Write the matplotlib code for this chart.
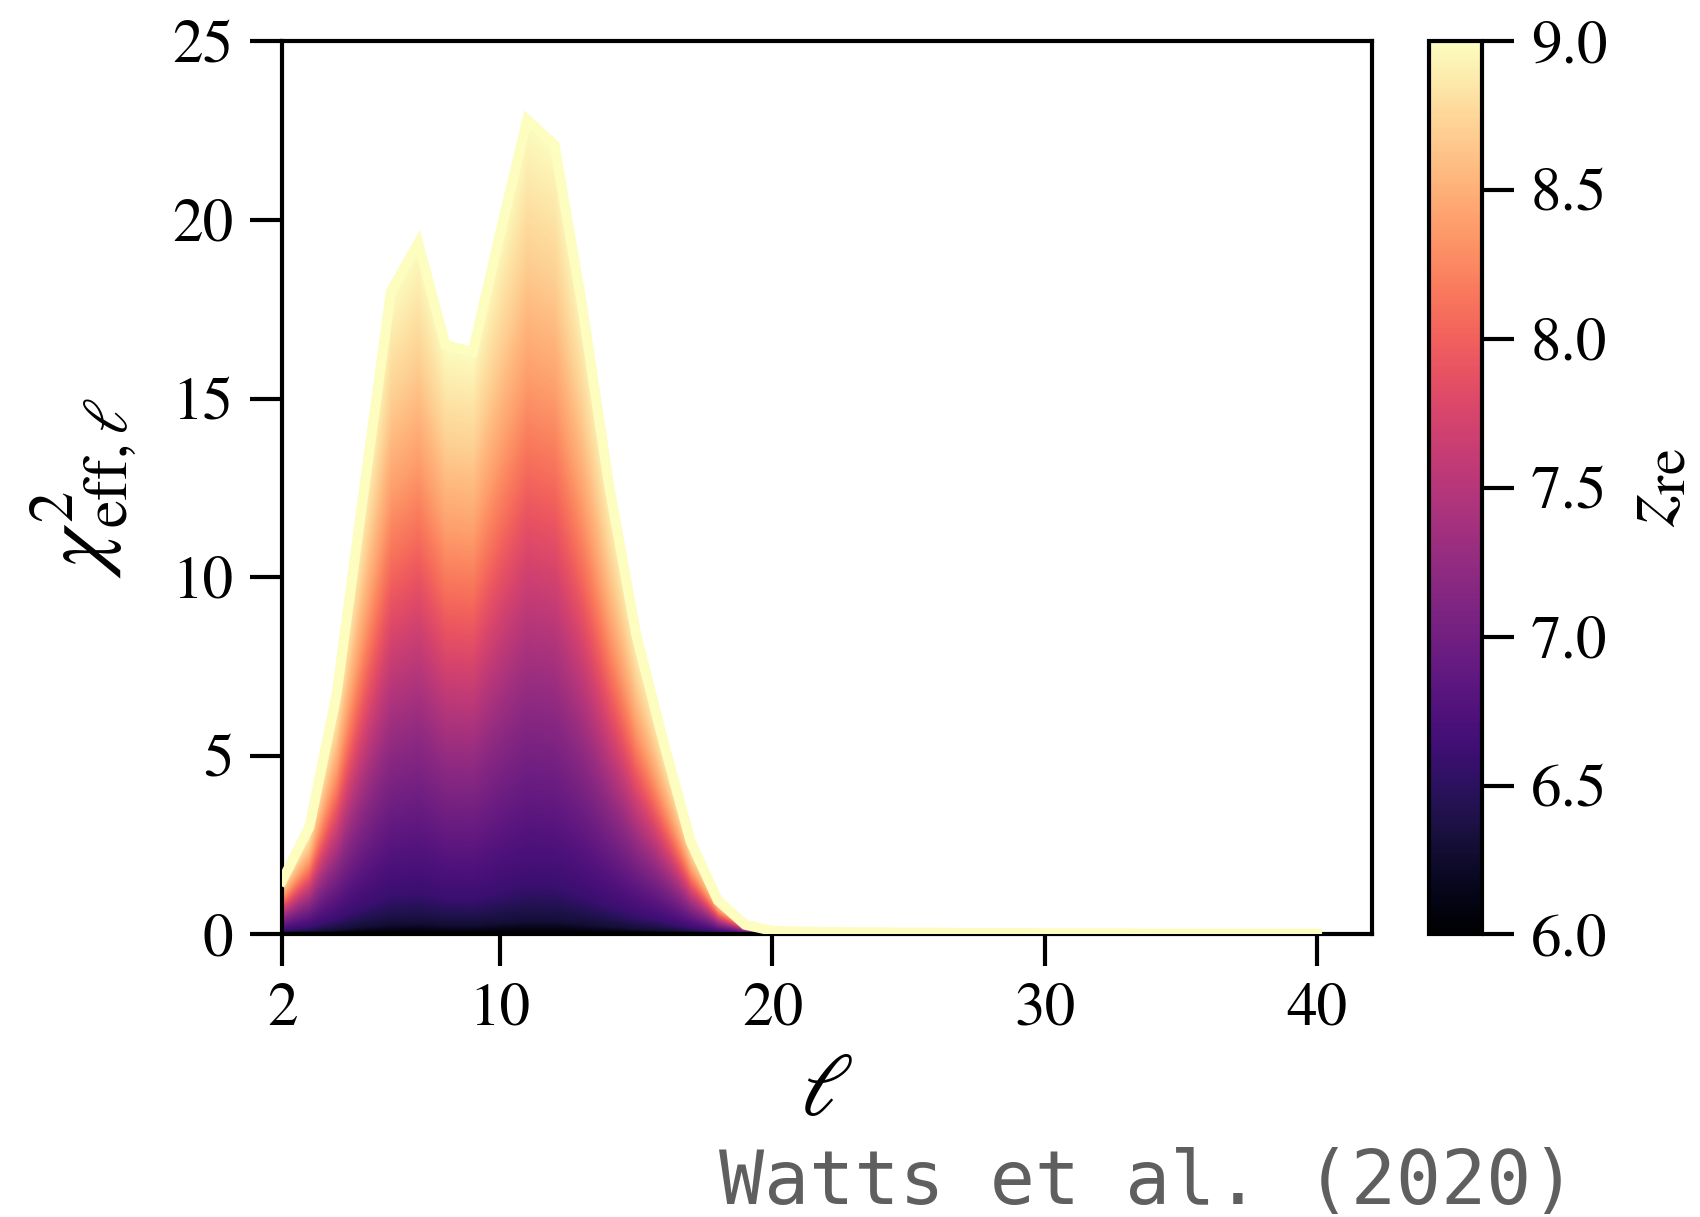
#!/usr/bin/env python3
"""Effective chi^2 per multipole, shaded by reionization redshift"""

import numpy as np
import matplotlib
matplotlib.use("Agg")
import matplotlib.pyplot as plt
from matplotlib.colors import Normalize
from matplotlib.cm import ScalarMappable

# multipoles and chi2_eff at the top of the z_re range (z_re = 9)
ELL = list(range(2, 41))
CHI2_ZMAX = [1.5, 3.0, 6.7, 12.4, 18.0, 19.35, 16.5, 16.3, 19.6, 22.8,
             22.1, 17.7, 12.6, 8.4, 5.4, 2.6, 0.95, 0.27, 0.10, 0.08,
             0.07, 0.06, 0.06, 0.05, 0.05, 0.04, 0.04, 0.04, 0.03, 0.03,
             0.03, 0.03, 0.02, 0.02, 0.02, 0.02, 0.02, 0.02, 0.02]

# z_re levels and the share of the z=9 curve reached at each level
Z_LEVELS = [6.0, 6.3, 6.6, 6.9, 7.2, 7.5, 7.8, 8.1, 8.4, 8.7, 9.0]
FRAC_LEVELS = [0.0, 0.015, 0.06, 0.17, 0.28, 0.38, 0.48, 0.58, 0.69, 0.83, 1.0]

Z_MIN, Z_MAX = 6.0, 9.0
CBAR_TICKS = [6.0, 6.5, 7.0, 7.5, 8.0, 8.5, 9.0]
X_TICKS = [2, 10, 20, 30, 40]
Y_TICKS = [0, 5, 10, 15, 20, 25]

plt.rcParams["font.family"] = "STIXGeneral"
plt.rcParams["mathtext.fontset"] = "stix"
plt.rcParams["axes.linewidth"] = 1.5

fig = plt.figure(figsize=(8.5, 6.085), dpi=200)
ax = fig.add_axes([0.1659, 0.2322, 0.6409, 0.7339])
cax = fig.add_axes([0.8406, 0.2322, 0.0312, 0.7339])

# colour field: each point takes the z_re whose curve passes through it
ell = np.array(ELL, dtype=float)
chi2 = np.array(CHI2_ZMAX)
xg = np.linspace(ell[0], ell[-1], 1500)
yg = np.linspace(0, chi2.max() * 1.02, 1200)
env = np.interp(xg, ell, chi2)
frac = yg[:, None] / env[None, :]
zfield = np.interp(np.clip(frac, 0, 1), FRAC_LEVELS, Z_LEVELS)

outline = ax.fill_between(ell, 0, chi2, facecolor="none", edgecolor="none")
im = ax.imshow(zfield, cmap="magma", vmin=Z_MIN, vmax=Z_MAX, origin="lower",
               extent=[xg[0], xg[-1], yg[0], yg[-1]], aspect="auto",
               interpolation="bilinear")
im.set_clip_path(outline.get_paths()[0], transform=ax.transData)
ax.plot(ell, chi2, color=plt.cm.magma(1.0), lw=3.6, solid_joinstyle="miter",
        zorder=3)

ax.set_xlim(2, 42)
ax.set_ylim(0, 25)
ax.set_xticks(X_TICKS)
ax.set_yticks(Y_TICKS)
ax.tick_params(length=11.5, width=1.5, labelsize=22, pad=6)
ax.set_xlabel(r"$\ell$", fontsize=32, labelpad=6)
ax.set_ylabel(r"$\chi^2_{\rm eff,\ell}$", fontsize=32, labelpad=12)

cbar = fig.colorbar(ScalarMappable(norm=Normalize(Z_MIN, Z_MAX), cmap="magma"),
                    cax=cax)
cbar.set_ticks(CBAR_TICKS)
cbar.set_ticklabels([f"{t:.1f}" for t in CBAR_TICKS])
cbar.outline.set_linewidth(1.5)
cax.tick_params(length=11.5, width=1.5, labelsize=22, pad=6)
cbar.set_label(r"$z_{\rm re}$", fontsize=30, labelpad=4)

fig.text(0.675, 0.011, "Watts et al. (2020)", family="DejaVu Sans Mono",
         fontsize=27, color="#5f5f5f", ha="center", va="baseline")

fig.savefig("out.png", dpi=200)
